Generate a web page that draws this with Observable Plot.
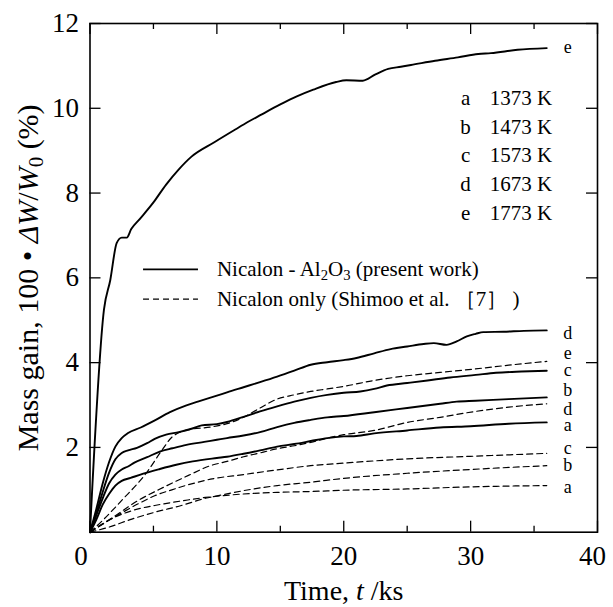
<!DOCTYPE html>
<html>
<head>
<meta charset="utf-8">
<script src="https://cdn.jsdelivr.net/npm/d3@7"></script>
<script src="https://cdn.jsdelivr.net/npm/@observablehq/plot@0.6"></script>
<style>
  html, body { margin: 0; padding: 0; background: #fff; }
  svg { display: block; }
</style>
</head>
<body>
<div id="chart"></div>
<script>
// ---------- data (time t / ks, mass gain %) ----------
const solidA = [[0,0],[0.5,0.3],[1,0.65],[1.5,0.9],[2,1.1],[2.5,1.21],[3.2,1.28],[4.2,1.38],[5.5,1.49],[6.8,1.59],[8.1,1.67],[10,1.75],[10.8,1.78],[12.1,1.85],[13.4,1.93],[14.75,2.02],[16.1,2.08],[17.4,2.15],[18.7,2.22],[20,2.26],[21,2.27],[22.4,2.33],[25,2.4],[27.6,2.47],[30,2.5],[33,2.56],[36,2.59]];
const solidB = [[0,0],[0.5,0.4],[1,0.8],[1.5,1.15],[2,1.36],[2.5,1.48],[3,1.55],[3.5,1.64],[4.5,1.77],[5.5,1.9],[6.5,1.98],[7.6,2.06],[9,2.13],[10,2.18],[10.8,2.22],[12.1,2.28],[13.4,2.36],[14.75,2.48],[16.1,2.58],[17.4,2.65],[18.7,2.71],[20,2.74],[22.4,2.83],[25,2.93],[27.6,3.03],[28.9,3.08],[30.4,3.1],[33,3.14],[36,3.18]];
const solidC = [[0,0],[0.5,0.45],[1,0.95],[1.5,1.4],[2,1.72],[2.5,1.87],[3,1.93],[3.7,1.99],[4.5,2.1],[5.1,2.2],[6,2.3],[7,2.36],[8,2.44],[8.8,2.52],[10,2.55],[10.8,2.6],[12.1,2.72],[13.4,2.85],[14.75,2.97],[16.1,3.08],[17.4,3.17],[18.7,3.24],[20,3.29],[21.3,3.32],[22.4,3.38],[23.4,3.46],[25,3.52],[26.6,3.58],[28.4,3.65],[30.4,3.71],[32,3.76],[34,3.79],[36,3.81]];
const solidD = [[0,0],[0.5,0.55],[1,1.15],[1.5,1.65],[2,2.02],[2.5,2.22],[3,2.34],[4,2.47],[5,2.62],[6.3,2.83],[7.6,2.99],[8.5,3.08],[10,3.22],[10.8,3.3],[12.1,3.42],[13.4,3.54],[14.75,3.67],[16.1,3.81],[17.4,3.95],[18.7,4.01],[20,4.06],[21,4.11],[22.4,4.22],[23.7,4.32],[25,4.38],[26.3,4.44],[27.1,4.46],[28.1,4.42],[28.9,4.5],[29.7,4.62],[30.4,4.68],[31,4.72],[32.6,4.73],[34.2,4.75],[36,4.76]];
const solidE = [[0,0],[1.1,5.25],[1.6,5.95],[2.1,6.82],[2.5,6.95],[2.9,6.95],[3.25,7.15],[3.9,7.38],[5,7.78],[6,8.2],[7,8.56],[8,8.86],[9.8,9.2],[11.45,9.5],[12.4,9.67],[13.5,9.85],[15,10.09],[16.3,10.28],[17.6,10.44],[19.4,10.62],[20.2,10.66],[21.5,10.65],[22.5,10.8],[23.5,10.93],[24.5,10.98],[25.3,11.02],[27.2,11.12],[29,11.2],[30.6,11.28],[31.6,11.3],[33.7,11.38],[36,11.42]];

const dashedA = [[0,0],[1,0.2],[2,0.36],[3.8,0.55],[5.1,0.63],[7.7,0.76],[9.1,0.82],[10.4,0.86],[12,0.9],[14.75,0.94],[17.4,0.96],[20,0.99],[25,1.02],[30,1.07],[36,1.1]];
const dashedB = [[0,0],[1.5,0.12],[3.3,0.31],[5.1,0.47],[7.2,0.63],[9.1,0.8],[10.4,0.88],[12.1,0.98],[14.75,1.1],[17.4,1.18],[20,1.27],[25,1.39],[30,1.48],[36,1.57]];
const dashedC = [[0,0],[1.5,0.28],[3.8,0.67],[5.1,0.86],[6.45,1.0],[7.76,1.12],[9.5,1.25],[12.1,1.36],[14.75,1.47],[17.4,1.57],[20,1.63],[25,1.73],[30,1.79],[36,1.86]];
const dashedD = [[0,0],[2,0.39],[3.8,0.75],[5.4,1.0],[7.76,1.34],[9.5,1.57],[10.8,1.67],[12.1,1.78],[13.4,1.87],[14.75,1.97],[16.1,2.04],[17.4,2.12],[18.7,2.22],[20,2.3],[22.4,2.4],[25,2.59],[27.6,2.71],[30.4,2.85],[33,2.95],[36,3.03]];
const dashedE = [[0,0],[1,0.28],[2.5,0.75],[4.5,1.42],[5.66,1.93],[6.45,2.24],[7.1,2.36],[8,2.43],[9.5,2.48],[10.8,2.56],[12.1,2.71],[13.4,2.93],[14.75,3.14],[16.1,3.24],[17.4,3.32],[18.7,3.38],[20,3.44],[22.4,3.58],[25,3.69],[27.6,3.77],[30.3,3.85],[33,3.94],[36,4.03]];

const seriesLetters = ["a","b","c","d","e"];
const temperatures = ["1373 K","1473 K","1573 K","1673 K","1773 K"];
const legendTexts = ["Nicalon - Al2O3 (present work)", "Nicalon only (Shimoo et al. ［7］ )"];

// end-of-curve letter labels (right side) and their y placement (mass gain units)
const endLetters = ["e","d","e","c","b","d","a","c","b","a"];
const endLetterY = [11.43,4.7,4.22,3.83,3.34,2.9,2.53,1.98,1.57,1.07];

const xMajor = [0,10,20,30,40];
const xMinor = [5,15,25,35];
const yMajor = [2,4,6,8,10,12];
const yTickLabels = [2,4,6,8,10,12];

// ---------- build tables ----------
function rows(arr, series) { return arr.map(([t,v]) => ({t, v, series})); }
const solidRows = [solidA,solidB,solidC,solidD,solidE].flatMap((s,i)=>rows(s, seriesLetters[i]));
const dashedRows = [dashedA,dashedB,dashedC,dashedD,dashedE].flatMap((s,i)=>rows(s, seriesLetters[i]));
const endLabelRows = endLetters.map((l,i)=>({l, y: endLetterY[i]}));

// ---------- layout ----------
const W = 613, H = 607;
const mL = 89.5, mR = 16, mT = 23, mB = 75.3;
const innerW = W - mL - mR, innerH = H - mT - mB;
const FONT = "'Liberation Serif', 'Times New Roman', Times, serif";
const majorLen = 11, minorLen = 6;

// legend anchor (data units)
const legX1 = 4.22, legX2 = 8.55, legTextX = 10.0, legY = [6.2, 5.5];
const tempLetterX = 29.6, tempTextX = 31.5, tempY0 = 10.23, tempDY = 0.675;

const marks = [
  Plot.frame({stroke: "black", strokeWidth: 1.6}),
  // inward ticks
  Plot.tickX(xMajor, {x: d=>d, insetTop: innerH - majorLen, strokeWidth: 1.3}),
  Plot.tickX(xMajor, {x: d=>d, insetBottom: innerH - majorLen, strokeWidth: 1.3}),
  Plot.tickX(xMinor, {x: d=>d, insetTop: innerH - minorLen, strokeWidth: 1.3}),
  Plot.tickX(xMinor, {x: d=>d, insetBottom: innerH - minorLen, strokeWidth: 1.3}),
  Plot.tickY(yMajor, {y: d=>d, insetRight: innerW - majorLen, strokeWidth: 1.3}),
  Plot.tickY(yMajor, {y: d=>d, insetLeft: innerW - majorLen, strokeWidth: 1.3}),
  // tick labels
  Plot.axisY(yTickLabels, {tickSize: 0, tickPadding: 11, label: null, fontSize: 27}),
  Plot.axisX([10,20,30], {tickSize: 0, tickPadding: 14, label: null, fontSize: 27}),
  Plot.text([0], {x: d=>d, frameAnchor: "bottom", lineAnchor: "top", dy: 14, dx: -9, text: d=>String(d), fontSize: 27}),
  Plot.text([40], {x: d=>d, frameAnchor: "bottom", lineAnchor: "top", dy: 14, dx: -5, text: d=>String(d), fontSize: 27}),
  // axis titles
  Plot.text(["Mass gain, 100 • ΔW/W0 (%)"], {frameAnchor: "left", textAnchor: "middle", lineAnchor: "middle", dx: -62, rotate: -90, text: d=>d, fontSize: 30}),
  Plot.text(["Time, t /ks"], {frameAnchor: "bottom", textAnchor: "middle", lineAnchor: "middle", dy: 59, text: d=>d, fontSize: 28}),
  // curves
  Plot.line(solidRows, {x: "t", y: "v", z: "series", stroke: "black", strokeWidth: 1.9, curve: "monotone-x"}),
  Plot.line(dashedRows, {x: "t", y: "v", z: "series", stroke: "black", strokeWidth: 1.2, strokeDasharray: "6,4", curve: "monotone-x"}),
  // end labels
  Plot.text(endLabelRows, {x: () => 36, y: "y", text: "l", dx: 21, fontSize: 18}),
  // temperature legend
  Plot.text(seriesLetters, {x: () => tempLetterX, y: (d,i) => tempY0 - i*tempDY, text: d=>d, fontSize: 21}),
  Plot.text(temperatures, {x: () => tempTextX, y: (d,i) => tempY0 - i*tempDY, text: d=>d, textAnchor: "start", fontSize: 21}),
  // line-style legend
  Plot.ruleY([legY[0]], {x1: legX1, x2: legX2, stroke: "black", strokeWidth: 1.9}),
  Plot.ruleY([legY[1]], {x1: legX1, x2: legX2, stroke: "black", strokeWidth: 1.2, strokeDasharray: "6,4"}),
  Plot.text(legendTexts, {x: () => legTextX, y: (d,i) => legY[i], text: d=>d, textAnchor: "start", fontSize: 21})
];

const svg = Plot.plot({
  width: W, height: H,
  marginLeft: mL, marginRight: mR, marginTop: mT, marginBottom: mB,
  x: {domain: [0, 40]},
  y: {domain: [0, 12]},
  style: {fontFamily: FONT, background: "white", color: "black", overflow: "visible"},
  marks
});
document.getElementById("chart").appendChild(svg);

// ---------- rich text (italic / subscripts) ----------
function rich(node, parts) {
  node.textContent = "";
  let shift = 0;
  for (const p of parts) {
    const ts = document.createElementNS("http://www.w3.org/2000/svg", "tspan");
    ts.textContent = p.t;
    if (p.i) ts.setAttribute("font-style", "italic");
    if (p.sub) {
      ts.setAttribute("font-size", "70%");
      ts.setAttribute("dy", String(0.28 - shift) + "em");
      shift = 0.28;
    } else if (shift) {
      ts.setAttribute("dy", String(-shift * 0.7) + "em");
      shift = 0;
    }
    node.appendChild(ts);
  }
}
svg.querySelectorAll("text").forEach(node => {
  const s = node.textContent;
  if (s === "Mass gain, 100 • ΔW/W0 (%)") {
    rich(node, [{t: "Mass gain, 100 • "}, {t: "ΔW", i: true}, {t: "/"}, {t: "W", i: true}, {t: "0", sub: true}, {t: " (%)"}]);
  } else if (s === "Time, t /ks") {
    rich(node, [{t: "Time, "}, {t: "t", i: true}, {t: " /ks"}]);
  } else if (s === "Nicalon - Al2O3 (present work)") {
    rich(node, [{t: "Nicalon - Al"}, {t: "2", sub: true}, {t: "O"}, {t: "3", sub: true}, {t: " (present work)"}]);
  }
});
</script>
</body>
</html>
